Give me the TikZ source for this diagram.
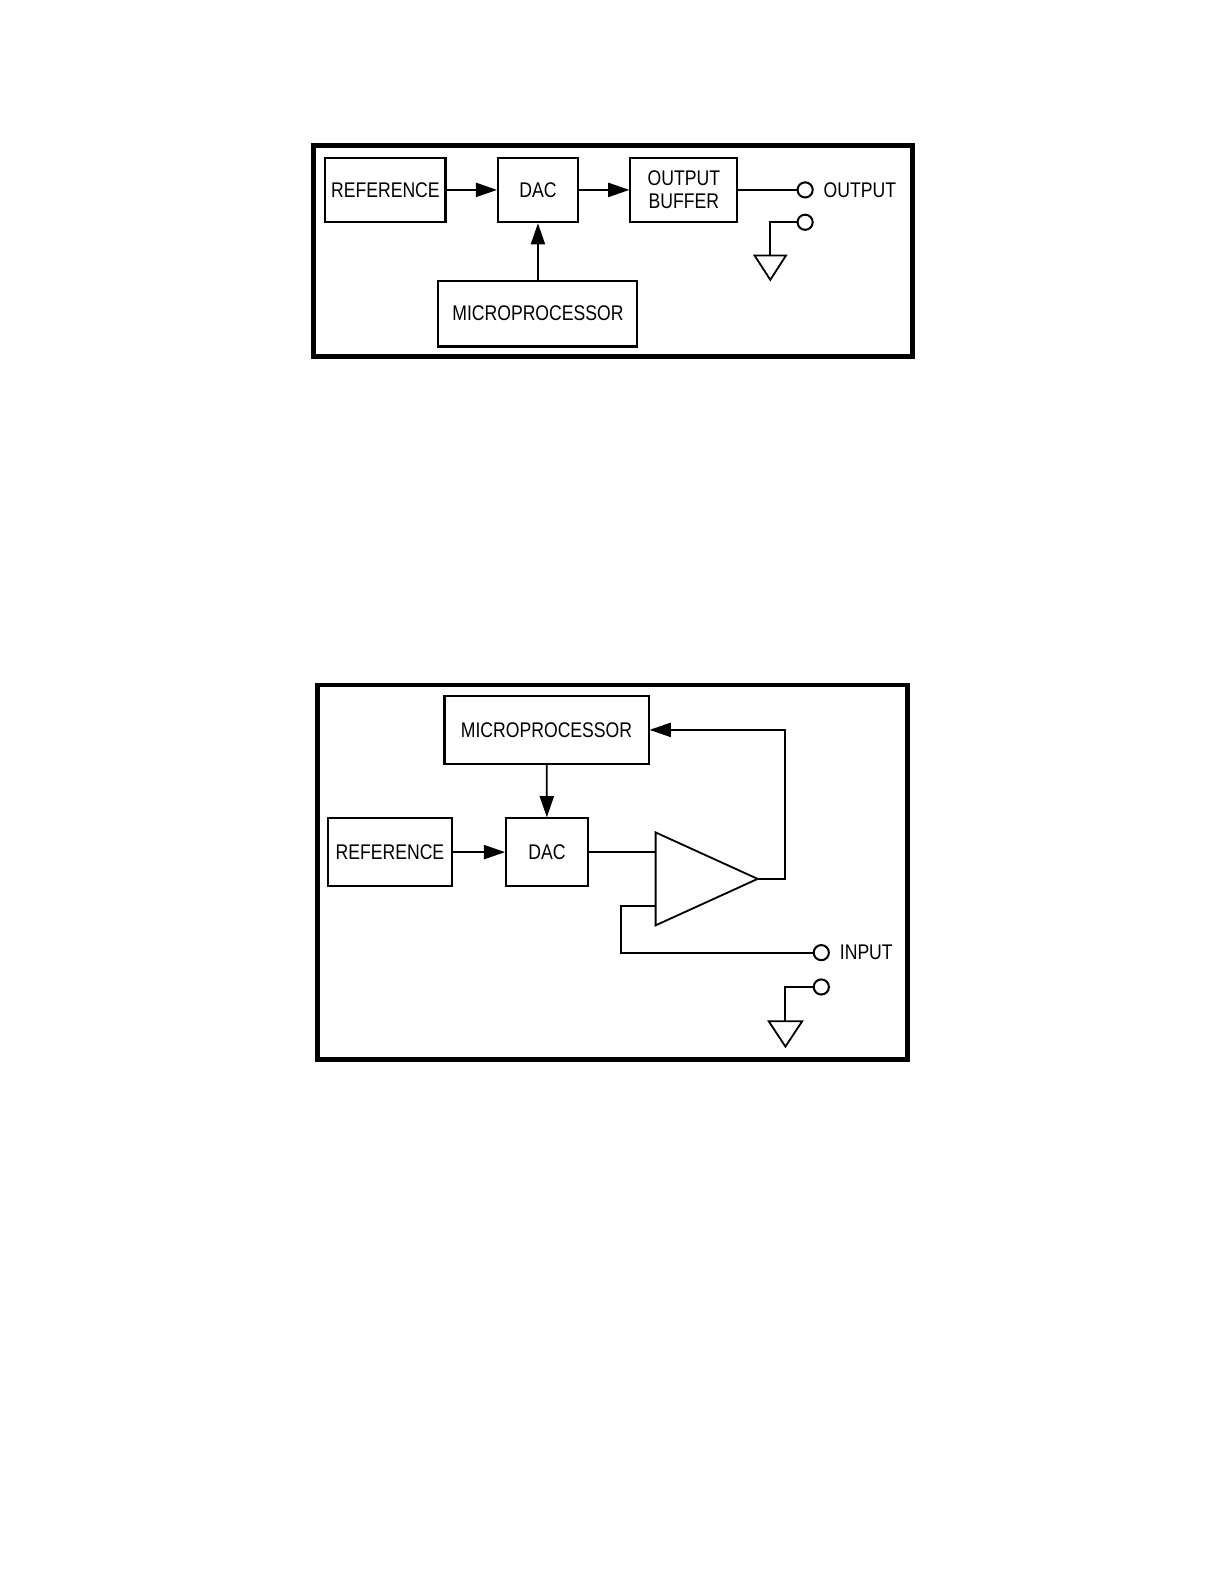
\documentclass[tikz,border=0pt]{standalone}
\usepackage{fontspec}
\setmainfont{Liberation Sans}[FakeStretch=0.83]
\usetikzlibrary{arrows.meta}
\begin{document}
\begin{tikzpicture}[x=0.5pt,y=-0.5pt,
  box/.style={draw,line width=1pt,inner sep=0pt,minimum height=32pt,font=\fontsize{10.5}{11.5}\selectfont,align=center},
  term/.style={draw,circle,line width=1pt,minimum size=7.5pt,inner sep=0pt},
  lbl/.style={anchor=west,inner sep=0pt,font=\fontsize{10.5}{11.5}\selectfont},
  wire/.style={line width=0.9pt},
  arr/.style={wire,-{Triangle[length=10.5pt,width=7pt]}},
  frame/.style={line width=2.4pt},
  gnd/.style={line width=0.9pt,line join=miter}]
\useasboundingbox (0,0) rectangle (1212,1568);

% ---------- top diagram ----------
\draw[frame] (310,144) rectangle (903,353);
\node[box,minimum width=59.5pt] (ref1) at (381.5,188) {REFERENCE};
\node[box,minimum width=39.5pt] (dac1) at (532.5,188) {DAC};
\node[box,minimum width=53pt] (buf1) at (677,188) {OUTPUT\\BUFFER};
\node[box,minimum width=98.5pt,minimum height=32.5pt] (mp1) at (532.5,310.5) {MICROPROCESSOR};
\node[term] (out1) at (797,188) {};
\node[term] (g1) at (797,220) {};
\node[lbl] (outl) at (815,188) {OUTPUT};
\coordinate (g1a) at (762,220);
\coordinate (g1b) at (762,253);
\draw[arr] (ref1) -- (dac1);
\draw[arr] (dac1) -- (buf1);
\draw[arr] (mp1) -- (dac1);
\draw[wire] (buf1) -- (out1);
\draw[wire] (g1) -- (g1a) -- (g1b);
\draw[gnd] (747,253) -- (778,253) -- (762.5,277) -- cycle;

% ---------- bottom diagram ----------
\draw[frame] (314,678) rectangle (898,1049);
\node[box,minimum width=101pt,minimum height=33.5pt] (mp2) at (541,722.5) {MICROPROCESSOR};
\node[box,minimum width=61pt,minimum height=33.5pt] (ref2) at (386,843.5) {REFERENCE};
\node[box,minimum width=40.5pt,minimum height=33.5pt] (dac2) at (541.5,843.5) {DAC};
\coordinate (ampin1) at (649,843.5);
\coordinate (ampin2) at (649,897);
\coordinate (ampout) at (750,870);
\draw[wire,line join=miter] (649,824) -- (649,916) -- (ampout) -- cycle;
\node[term] (in2) at (813,943) {};
\node[term] (g2) at (813,977) {};
\node[lbl] (inl) at (831,943) {INPUT};
\coordinate (fb1) at (777,870);
\coordinate (fb2) at (777,722.5);
\coordinate (lp1) at (615,897);
\coordinate (lp2) at (615,943);
\coordinate (g2a) at (777,977);
\coordinate (g2b) at (777,1011);
\draw[arr] (ref2) -- (dac2);
\draw[arr] (mp2) -- (dac2);
\draw[wire] (dac2) -- (ampin1);
\draw[arr] (ampout) -- (fb1) -- (fb2) -- (mp2.east);
\draw[wire] (ampin2) -- (lp1) -- (lp2) -- (in2);
\draw[wire] (g2) -- (g2a) -- (g2b);
\draw[gnd] (761,1011) -- (794,1011) -- (777.5,1036) -- cycle;
\end{tikzpicture}
\end{document}
